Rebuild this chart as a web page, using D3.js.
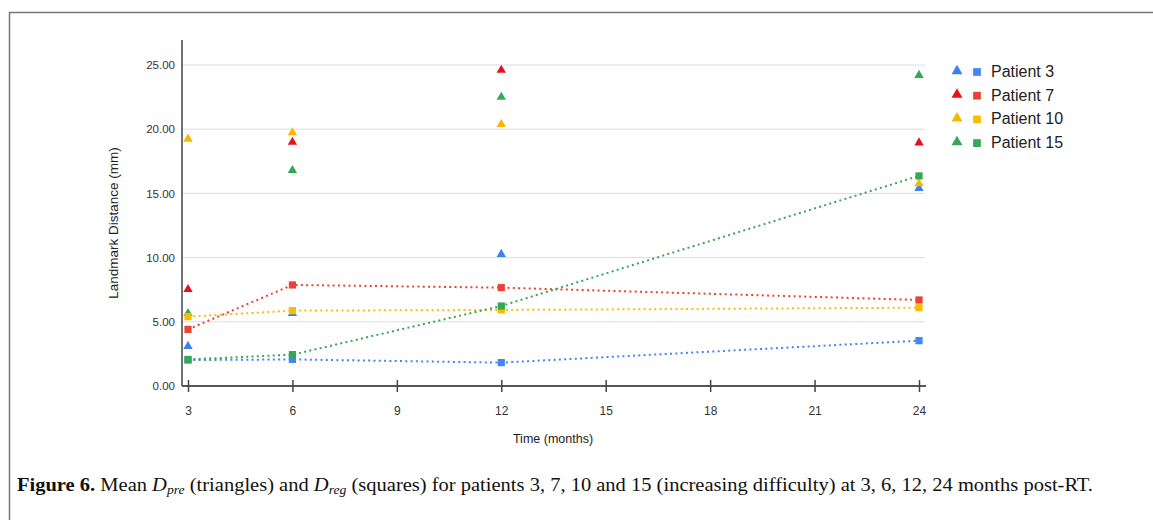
<!DOCTYPE html>
<html>
<head>
<meta charset="utf-8">
<script src="https://cdn.jsdelivr.net/npm/d3@7"></script>
<style>
  body { margin: 0; background: #fff; }
  svg { display: block; }
</style>
</head>
<body>
<div id="viz"></div>
<script>
// Data
const months = [3, 6, 12, 24];
const patients = ["Patient 3", "Patient 7", "Patient 10", "Patient 15"];
const colors = ["#4285f4", "#ea4335", "#fbbc04", "#34a853"];
const triColors = ["#3b82f0", "#e8101c", "#f9b800", "#34a853"];

// Mean D_pre (triangles)
const dPre = [
  [3.1, 5.66, 10.26, 15.4],
  [7.53, 19.0, 24.6, 18.95],
  [19.24, 19.73, 20.38, 15.76],
  [5.66, 16.8, 22.5, 24.2]
];
// Mean D_reg (squares, joined with dotted lines)
const dReg = [
  [2.02, 2.07, 1.82, 3.53],
  [4.41, 7.87, 7.66, 6.7],
  [5.4, 5.87, 5.92, 6.1],
  [2.07, 2.44, 6.23, 16.36]
];

const xTicks = [3, 6, 9, 12, 15, 18, 21, 24];
const yTicks = [0, 5, 10, 15, 20, 25];

const width = 1153, height = 520;
const sans = "Liberation Sans, Arial, sans-serif";

const svg = d3.select("#viz").append("svg")
  .attr("width", width)
  .attr("height", height);

// Figure frame (top and left edges only visible)
svg.append("path")
  .attr("d", `M9.5,${height} V12.5 H${width}`)
  .attr("fill", "none")
  .attr("stroke", "#777")
  .attr("stroke-width", 1.5);

const x = d3.scaleLinear().domain([3, 24]).range([188, 919]);
const y = d3.scaleLinear().domain([0, 25]).range([386, 65]);

// Gridlines
svg.append("g")
  .selectAll("line")
  .data(yTicks.slice(1))
  .join("line")
  .attr("x1", 182).attr("x2", 925)
  .attr("y1", d => y(d)).attr("y2", d => y(d))
  .attr("stroke", "#dcdcdc")
  .attr("stroke-width", 1);

// Y axis
const yAxis = svg.append("g")
  .attr("transform", "translate(182,0)")
  .call(d3.axisLeft(y).tickValues(yTicks).tickFormat(d3.format(".2f")).tickSize(0).tickPadding(7));
yAxis.select(".domain").remove();
yAxis.selectAll("text")
  .attr("font-family", sans)
  .attr("font-size", 11.5)
  .attr("fill", "#333");
svg.append("line")
  .attr("x1", 182).attr("x2", 182)
  .attr("y1", 40).attr("y2", 386)
  .attr("stroke", "#444").attr("stroke-width", 1.5);

// X axis
const xAxis = svg.append("g")
  .attr("transform", "translate(0,386)")
  .call(d3.axisBottom(x).tickValues(xTicks).tickSizeInner(6).tickSizeOuter(0).tickPadding(14));
xAxis.select(".domain")
  .attr("d", "M182,0H926")
  .attr("stroke", "#555").attr("stroke-width", 2);
xAxis.selectAll(".tick line")
  .attr("y1", -6).attr("y2", 6)
  .attr("stroke", "#444").attr("stroke-width", 1.5);
xAxis.selectAll("text")
  .attr("font-family", sans)
  .attr("font-size", 12)
  .attr("fill", "#333");

// Axis titles
svg.append("text")
  .attr("x", 553).attr("y", 443)
  .attr("text-anchor", "middle")
  .attr("font-family", sans)
  .attr("font-size", 12.5)
  .attr("fill", "#222")
  .text("Time (months)");

svg.append("text")
  .attr("transform", "translate(118,223) rotate(-90)")
  .attr("text-anchor", "middle")
  .attr("font-family", sans)
  .attr("font-size", 13.5)
  .attr("fill", "#222")
  .text("Landmark Distance (mm)");

// Dotted D_reg lines
const line = d3.line()
  .x((d, i) => x(months[i]))
  .y(d => y(d));

svg.append("g")
  .selectAll("path")
  .data(dReg)
  .join("path")
  .attr("d", line)
  .attr("fill", "none")
  .attr("stroke", (d, i) => colors[i])
  .attr("stroke-width", 2)
  .attr("stroke-dasharray", "2,3.3");

const tri = d3.symbol().type(d3.symbolTriangle).size(38);
const sq = d3.symbol().type(d3.symbolSquare).size(52);

// Triangles (D_pre)
dPre.forEach((vals, p) => {
  svg.append("g")
    .selectAll("path")
    .data(vals)
    .join("path")
    .attr("d", tri)
    .attr("transform", (d, i) => `translate(${x(months[i])},${y(d)})`)
    .attr("fill", triColors[p]);
});

// Squares (D_reg)
dReg.forEach((vals, p) => {
  svg.append("g")
    .selectAll("path")
    .data(vals)
    .join("path")
    .attr("d", sq)
    .attr("transform", (d, i) => `translate(${x(months[i])},${y(d)})`)
    .attr("fill", colors[p]);
});

// Legend
const legend = svg.append("g")
  .selectAll("g")
  .data(patients)
  .join("g")
  .attr("transform", (d, i) => `translate(957,${71 + i * 23.7})`);
legend.append("path")
  .attr("d", d3.symbol().type(d3.symbolTriangle).size(52))
  .attr("fill", (d, i) => triColors[i]);
legend.append("path")
  .attr("d", d3.symbol().type(d3.symbolSquare).size(60))
  .attr("transform", "translate(20,1)")
  .attr("fill", (d, i) => colors[i]);
legend.append("text")
  .attr("x", 34).attr("y", 6)
  .attr("font-family", sans)
  .attr("font-size", 16)
  .attr("fill", "#222")
  .text(d => d);

// Caption
const cap = svg.append("text")
  .attr("x", 17).attr("y", 491)
  .attr("font-family", "Liberation Serif, Times New Roman, serif")
  .attr("font-size", 18)
  .attr("fill", "#111")
  .attr("textLength", 1076)
  .attr("lengthAdjust", "spacingAndGlyphs");
cap.append("tspan").attr("font-weight", "bold").text("Figure 6.");
cap.append("tspan").text(" Mean ");
cap.append("tspan").attr("font-style", "italic").text("D");
cap.append("tspan").attr("font-style", "italic").attr("font-size", 12).attr("dy", 3).text("pre");
cap.append("tspan").attr("dy", -3).text(" (triangles) and ");
cap.append("tspan").attr("font-style", "italic").text("D");
cap.append("tspan").attr("font-style", "italic").attr("font-size", 12).attr("dy", 3).text("reg");
cap.append("tspan").attr("dy", -3).text(" (squares) for patients 3, 7, 10 and 15 (increasing difficulty) at 3, 6, 12, 24 months post-RT.");
</script>
</body>
</html>
